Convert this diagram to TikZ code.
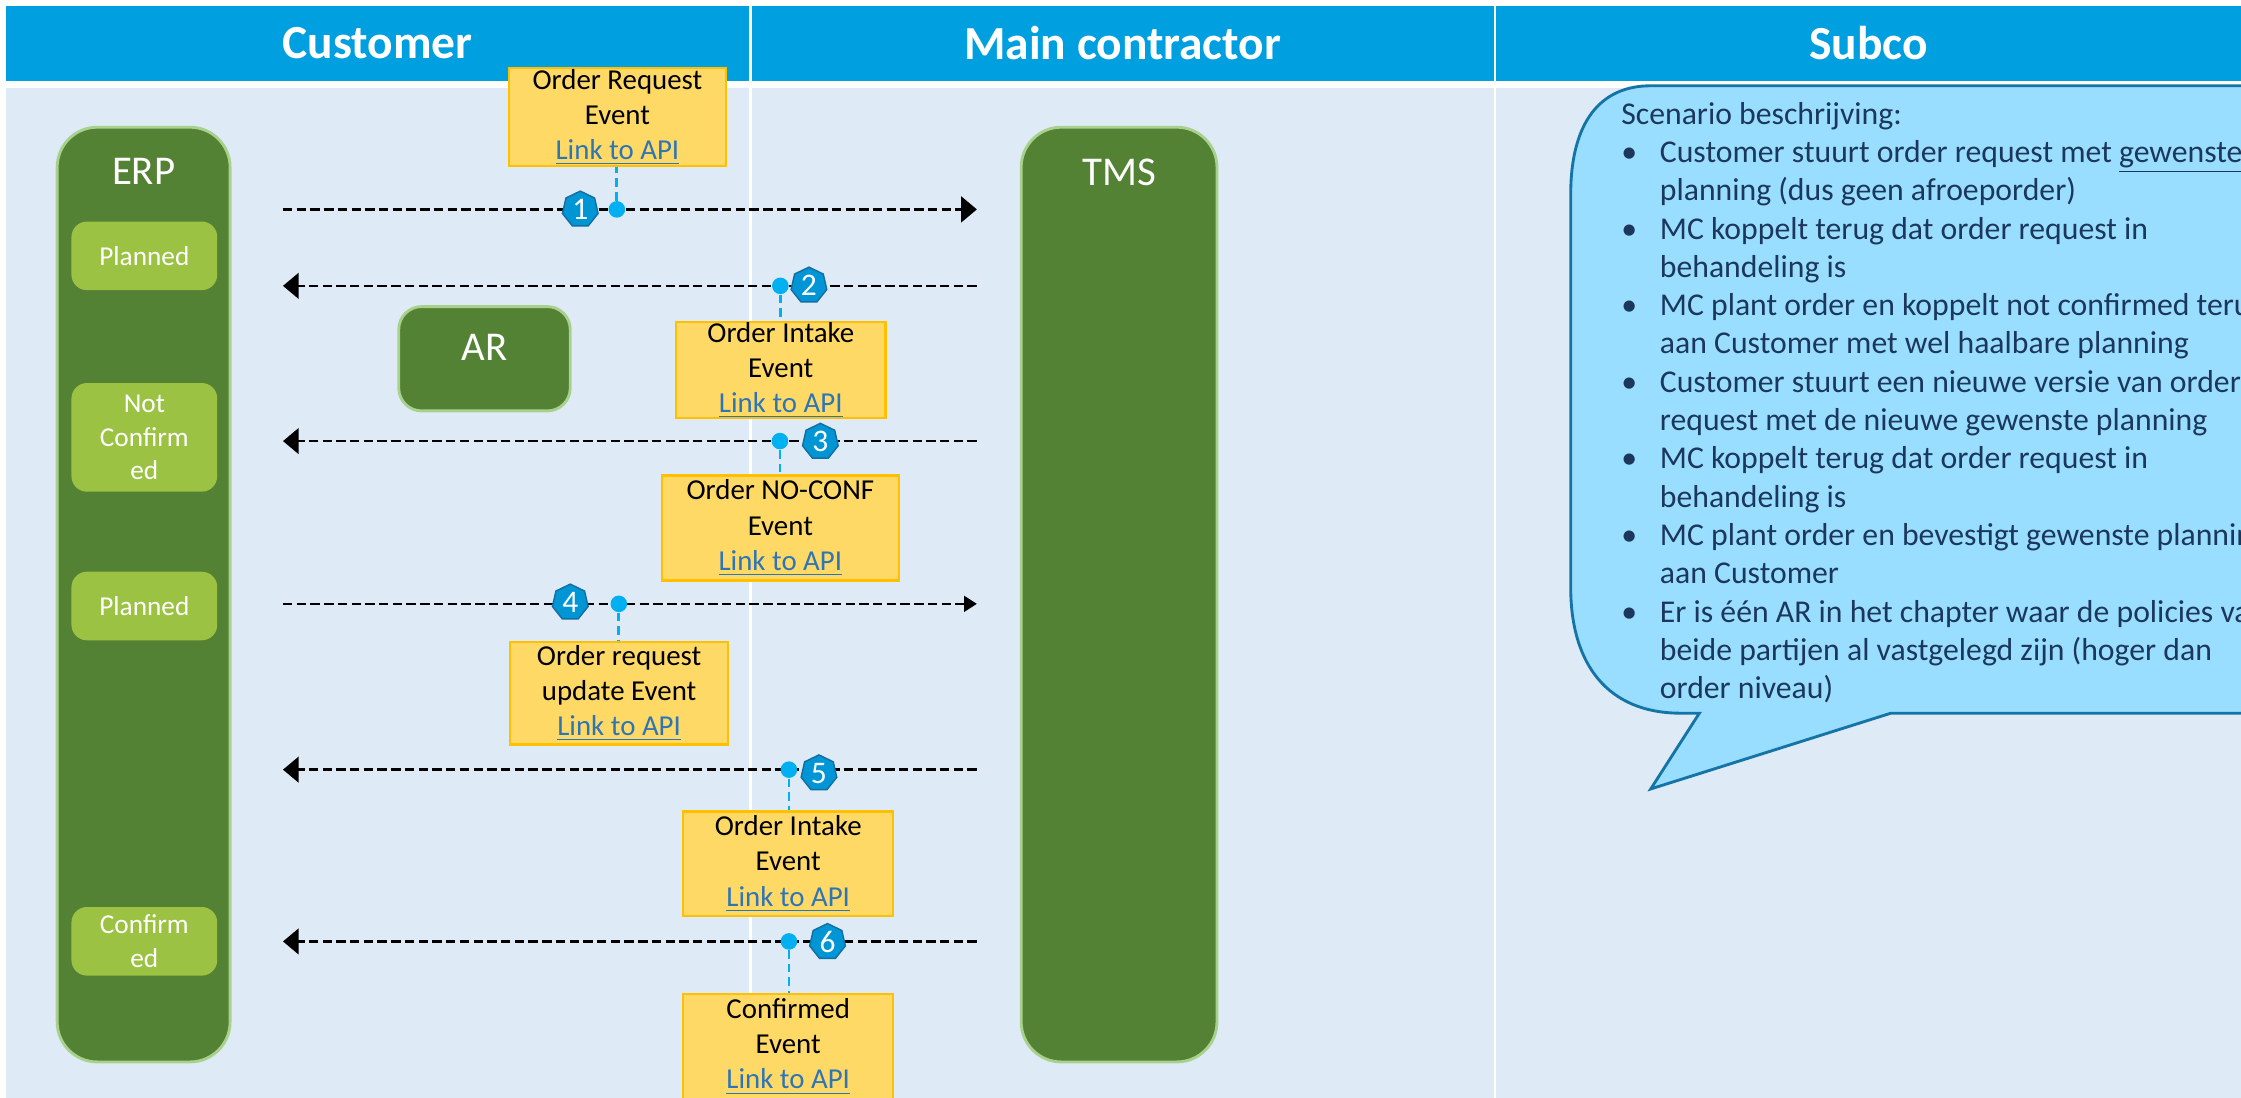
\documentclass[tikz,border=0pt]{standalone}
\usepackage{fontspec}
\setmainfont{Carlito}
\usepackage{xcolor}
\definecolor{headblue}{RGB}{0,160,224}
\definecolor{bodyblue}{RGB}{222,234,246}
\definecolor{lanegreen}{RGB}{84,130,53}
\definecolor{laneedge}{RGB}{169,209,142}
\definecolor{stategreen}{RGB}{155,194,67}
\definecolor{evfill}{RGB}{255,217,102}
\definecolor{evedge}{RGB}{255,192,0}
\definecolor{linkblue}{RGB}{46,117,182}
\definecolor{dotblue}{RGB}{0,176,240}
\definecolor{badgefill}{RGB}{0,150,214}
\definecolor{badgeedge}{RGB}{20,110,160}
\definecolor{bubblefill}{RGB}{153,221,255}
\definecolor{bubbleedge}{RGB}{20,116,165}
\definecolor{bubbletext}{RGB}{27,56,92}
\usepackage{tikz}
\usetikzlibrary{shapes.geometric,arrows.meta,positioning}

\newcommand\apilink{\textcolor{linkblue}{\underline{Link to API}}}
\newcommand\bul{\makebox[13.5pt][l]{\textbullet}}
\newcommand\cont{\hspace*{13.5pt}}

\begin{document}
\begin{tikzpicture}[
        x=0.5pt, y=-0.5pt,
        headbar/.style={fill=headblue, text=white, font=\fontsize{16.6}{20}\selectfont\bfseries, minimum height=26.1pt, inner sep=0pt},
        lanebox/.style={draw=laneedge, line width=1pt, fill=lanegreen, rounded corners=14pt},
        lanelabel/.style={text=white, font=\fontsize{14.3}{17}\selectfont, inner sep=0pt},
        statebox/.style={fill=stategreen, rounded corners=5.4pt, text=white, align=center, minimum width=51pt, font=\fontsize{9.55}{11.7}\selectfont, inner sep=0pt},
        eventbox/.style={draw=evedge, line width=0.8pt, fill=evfill, align=center, inner sep=0pt, font=\fontsize{10.1}{12.3}\selectfont},
        msgarrow/.style={-{Triangle[length=5.5pt,width=9pt]}, line width=0.9pt, dash pattern=on 3.3pt off 1.5pt},
        badge/.style={regular polygon, regular polygon sides=7, minimum size=12.8pt, inner sep=0pt, fill=badgefill, draw=badgeedge, line width=0.5pt, text=white, font=\fontsize{11}{11}\selectfont},
        evdot/.style={circle, fill=dotblue, minimum size=5.8pt, inner sep=0pt},
        evlink/.style={draw=dotblue, line width=1pt, dash pattern=on 3pt off 1.75pt}
    ]
        \useasboundingbox (0,0) rectangle (1568,768);
        \fill[white] (0,0) rectangle (1568,768);
        \clip (0,0) rectangle (1568,768);

        % swimlanes
        \fill[bodyblue] (4.5,61.5) rectangle (524,800);
        \fill[bodyblue] (526,61.5) rectangle (1045,800);
        \fill[bodyblue] (1047,61.5) rectangle (1600,800);
        \node[headbar, minimum width=259.75pt] (hcust) at (264.25,30.4) {Customer};
        \node[headbar, minimum width=259.5pt] (hmain) at (785.5,30.4) {Main contractor};
        \node[headbar, minimum width=260.5pt] (hsub) at (1307.5,30.4) {Subco};

        % systems
        \node[lanebox, minimum width=60.5pt, minimum height=327pt] (erp) at (100.5,416) {};
        \node[lanelabel, below=11.3pt of erp.north] (erplabel) {ERP};
        \node[lanebox, minimum width=68.5pt, minimum height=327pt] (tms) at (783,416) {};
        \node[lanelabel, below=11.3pt of tms.north] (tmslabel) {TMS};
        \node[lanebox, rounded corners=8pt, minimum width=60pt, minimum height=36.5pt] (ar) at (339,251) {};
        \node[lanelabel, below=10pt of ar.north] (arlabel) {AR};

        \node[statebox, minimum height=24pt] (planned1) at (101,179) {Planned};
        \node[statebox, minimum height=38pt] (notconf) at (101,306) {Not\\Confirm\\ed};
        \node[statebox, minimum height=24pt] (planned2) at (101,424) {Planned};
        \node[statebox, minimum height=24pt] (conf) at (101,658.6) {Confirm\\ed};

        % messages
        \coordinate (row1) at (0,146.5);
        \coordinate (row2) at (0,200);
        \coordinate (row3) at (0,308.6);
        \coordinate (row4) at (0,422.5);
        \coordinate (row5) at (0,538.5);
        \coordinate (row6) at (0,658.7);
        \draw[msgarrow] ([xshift=18pt]erp.east |- row1) -- ([xshift=-15pt]tms.west |- row1);
        \draw[msgarrow] ([xshift=-15pt]tms.west |- row2) -- ([xshift=18pt]erp.east |- row2);
        \draw[msgarrow] ([xshift=-15pt]tms.west |- row3) -- ([xshift=18pt]erp.east |- row3);
        \draw[msgarrow, -{Triangle[length=4.5pt,width=5.5pt]}] ([xshift=18pt]erp.east |- row4) -- ([xshift=-15pt]tms.west |- row4);
        \draw[msgarrow] ([xshift=-15pt]tms.west |- row5) -- ([xshift=18pt]erp.east |- row5);
        \draw[msgarrow] ([xshift=-15pt]tms.west |- row6) -- ([xshift=18pt]erp.east |- row6);

        % events
        \node[eventbox, minimum width=76pt, minimum height=34.2pt] (ev1) at (432,82) {Order Request\\Event\\\apilink};
        \node[eventbox, minimum width=73.2pt, minimum height=33pt] (ev2) at (546.3,259) {Order Intake\\Event\\\apilink};
        \node[eventbox, minimum width=83pt, minimum height=36.7pt] (ev3) at (546,369.4) {Order NO-CONF\\Event\\\apilink};
        \node[eventbox, minimum width=76.2pt, minimum height=36pt] (ev4) at (433.2,485) {Order request\\update Event\\\apilink};
        \node[eventbox, minimum width=73.5pt, minimum height=36.7pt] (ev5) at (551.5,604.4) {Order Intake\\Event\\\apilink};
        \node[eventbox, minimum width=73.5pt, minimum height=36.7pt] (ev6) at (551.5,732.4) {Confirmed\\Event\\\apilink};

        \node[evdot] (dot1) at (431.6,0 |- row1) {};
        \node[evdot] (dot2) at (546,0 |- row2) {};
        \node[evdot] (dot3) at (545.7,0 |- row3) {};
        \node[evdot] (dot4) at (433,0 |- row4) {};
        \node[evdot] (dot5) at (552,0 |- row5) {};
        \node[evdot] (dot6) at (552,0 |- row6) {};
        \draw[evlink] (dot1) -- (dot1 |- ev1.south);
        \draw[evlink] (dot2) -- (dot2 |- ev2.north);
        \draw[evlink] (dot3) -- (dot3 |- ev3.north);
        \draw[evlink] (dot4) -- (dot4 |- ev4.north);
        \draw[evlink] (dot5) -- (dot5 |- ev5.north);
        \draw[evlink] (dot6) -- (dot6 |- ev6.north);

        \node[badge] (nr1) at (406,146.5) {1};
        \node[badge] (nr2) at (566,199.7) {2};
        \node[badge] (nr3) at (574,309) {3};
        \node[badge] (nr4) at (399,421.5) {4};
        \node[badge] (nr5) at (573,541) {5};
        \node[badge] (nr6) at (579,659) {6};

        % scenario callout
        \draw[draw=bubbleedge, fill=bubblefill, line width=1pt] (1099,136) .. controls (1099,85) and (1120,60) .. (1155,60) -- (1600,60) -- (1600,499) -- (1323,499) -- (1155,552) -- (1189,499) -- (1176,499) .. controls (1125,499) and (1099,465) .. (1099,411) -- cycle;
        \node[anchor=north west, align=left, inner sep=0pt, text=bubbletext, font=\fontsize{11.1}{13.4}\selectfont] (scenario) at (1134,71) {Scenario beschrijving:\\
            \bul Customer stuurt order request met \underline{gewenste}\\
            \cont planning (dus geen afroeporder)\\
            \bul MC koppelt terug dat order request in\\
            \cont behandeling is\\
            \bul MC plant order en koppelt not confirmed terug\\
            \cont aan Customer met wel haalbare planning\\
            \bul Customer stuurt een nieuwe versie van order\\
            \cont request met de nieuwe gewenste planning\\
            \bul MC koppelt terug dat order request in\\
            \cont behandeling is\\
            \bul MC plant order en bevestigt gewenste planning\\
            \cont aan Customer\\
            \bul Er is één AR in het chapter waar de policies van\\
            \cont beide partijen al vastgelegd zijn (hoger dan\\
            \cont order niveau)};
    \end{tikzpicture}
\end{document}
